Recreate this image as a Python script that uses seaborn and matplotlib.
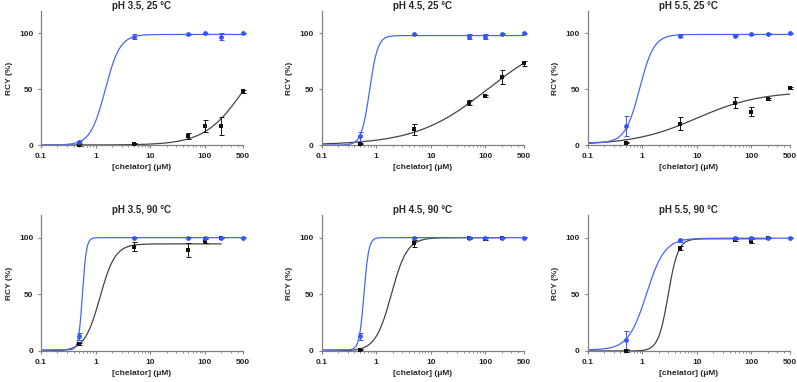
import numpy as np
import pandas as pd
import seaborn as sns
import matplotlib
matplotlib.use("Agg")
from matplotlib import pyplot as plt
from matplotlib.ticker import FixedLocator, LogLocator, NullFormatter

sns.set_theme(style="ticks")
plt.rcParams["font.family"] = ["Liberation Sans", "DejaVu Sans"]

# measured points (chelator concentration in uM)
conc = [0.5, 5, 50, 100, 200, 500]
titles = ["pH 3.5, 25 °C", "pH 4.5, 25 °C", "pH 5.5, 25 °C",
          "pH 3.5, 90 °C", "pH 4.5, 90 °C", "pH 5.5, 90 °C"]

blue_rcy = [[3, 97, 99, 100, 97, 100],
            [8, 99, 97, 97, 99.5, 100],
            [17, 98, 98, 99, 99.5, 100],
            [13, 100, 100, 100, 100, 100],
            [13, 100, 100, 100, 100, 100],
            [10, 97.5, 100, 100, 100, 100]]
blue_err = [[1, 2, 0.5, 0.5, 3, 0.5],
            [4, 0.5, 2, 2, 0.5, 0.5],
            [9, 1, 0.5, 0.5, 0.5, 0.5],
            [3, 0.5, 0.5, 0.5, 0.5, 0.5],
            [3, 0.5, 0.5, 0.5, 0.5, 0.5],
            [8, 1, 0.5, 0.5, 0.5, 0.5]]

# the 90 degC black series stop at 200 uM
black_rcy = [[0, 1, 8, 17, 17, 48],
             [1, 14, 38, 44, 61, 73],
             [2, 19, 38, 30, 41, 51],
             [6, 92, 89, 97, 100],
             [1, 95, 99.5, 99, 100],
             [0, 91, 98, 97, 100]]
black_err = [[0.5, 0.5, 3, 5, 8, 1.5],
             [0.5, 5, 2, 1, 6, 2],
             [0.5, 6, 5, 4, 1, 0.5],
             [1, 4, 6, 2, 0.5],
             [0.5, 3, 0.5, 1, 0.5],
             [0.5, 2, 1, 2, 0.5]]

# dose-response fit parameters: bottom, top, EC50, hill
blue_fit = [(0, 99, 1.5, 3.2), (0, 98, 0.76, 5.8), (2, 99, 0.9, 3.3),
            (1, 100, 0.575, 12), (1, 100, 0.6, 10), (1, 99.5, 1.2, 2.6)]
black_fit = [(0, 100, 530, 1.2), (0, 100, 110, 0.66), (0, 48, 10, 0.75),
             (0, 94.5, 1.2, 3.1), (0, 100, 1.9, 3.0), (0, 99, 3.0, 4.8)]

BLUE = "#3355ff"
BLUE_LINE = "#4a66f5"
BLACK = "#111111"
BLACK_LINE = "#444444"


def dose_response(x, bottom, top, ec50, hill):
    return bottom + (top - bottom) / (1 + (ec50 / x) ** hill)


fig = plt.figure(figsize=(7.97, 3.82), dpi=100)

lefts = [41 / 797, 321.5 / 797, 587.5 / 797]
width = 202 / 797
rows = [(0.6204, 0.3508), (0.0812, 0.356)]

for i in range(6):
    bottom, height = rows[i // 3]
    ax = fig.add_axes([lefts[i % 3], bottom, width, height])

    for ys, errs, fit, c, lc, mk in [
        (black_rcy[i], black_err[i], black_fit[i], BLACK, BLACK_LINE, "s"),
        (blue_rcy[i], blue_err[i], blue_fit[i], BLUE, BLUE_LINE, "o"),
    ]:
        xs = conc[:len(ys)]
        xx = np.logspace(-1, np.log10(xs[-1]), 300)
        curve = pd.DataFrame({"x": xx, "y": dose_response(xx, *fit)})
        sns.lineplot(data=curve, x="x", y="y", ax=ax, color=lc, lw=0.9)
        ax.errorbar(xs, ys, yerr=errs, fmt="none", ecolor=c, elinewidth=0.7,
                    capsize=1.8, capthick=0.7, clip_on=False, zorder=3)
        pts = pd.DataFrame({"x": xs, "y": ys})
        sns.scatterplot(data=pts, x="x", y="y", ax=ax, color=c, marker=mk,
                        s=12, linewidth=0, clip_on=False, zorder=4)

    ax.set_xscale("log")
    ax.set_xlim(0.1, 500)
    ax.set_ylim(0, 120)
    ax.xaxis.set_major_locator(FixedLocator([0.1, 1, 10, 100, 500]))
    ax.set_xticklabels(["0.1", "1", "10", "100", "500"])
    ax.xaxis.set_minor_locator(LogLocator(base=10, subs=np.arange(2, 10)))
    ax.xaxis.set_minor_formatter(NullFormatter())
    ax.set_yticks([0, 50, 100])

    sns.despine(ax=ax)
    for sp in ["left", "bottom"]:
        ax.spines[sp].set_color("#808080")
        ax.spines[sp].set_linewidth(0.9)
    ax.tick_params(which="major", length=2.5, width=0.8, color="#808080",
                   labelsize=6, pad=3)
    ax.tick_params(which="minor", length=1.5, width=0.6, color="#808080")
    for lab in ax.get_xticklabels() + ax.get_yticklabels():
        lab.set_fontweight("bold")

    ax.set_title(titles[i], fontsize=7, fontweight="bold", pad=0.5)
    ax.set_xlabel("[chelator] (μM)", fontsize=6, fontweight="bold", labelpad=3)
    ax.set_ylabel("RCY (%)", fontsize=6, fontweight="bold")
    ax.yaxis.set_label_coords(-0.14, 0.5)

fig.savefig("out.png", dpi=100)
